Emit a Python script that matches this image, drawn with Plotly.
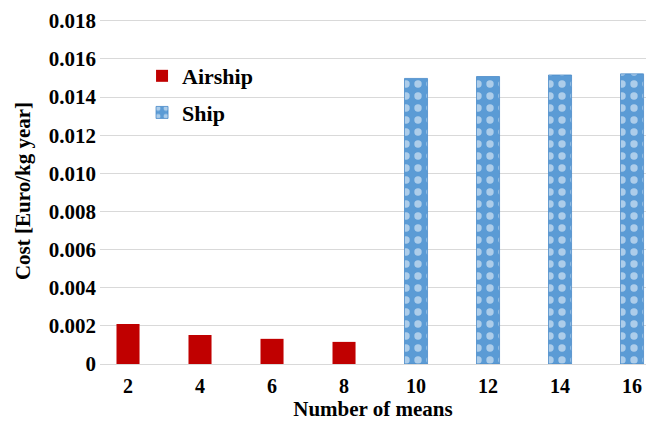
import plotly.graph_objects as go

categories = ["2", "4", "6", "8", "10", "12", "14", "16"]
airship_x = ["2", "4", "6", "8"]
airship_vals = [0.00210, 0.00152, 0.00132, 0.00116]
ship_x = ["10", "12", "14", "16"]
ship_vals = [0.01498, 0.01508, 0.01516, 0.01522]
ytick_vals = [0, 0.002, 0.004, 0.006, 0.008, 0.010, 0.012, 0.014, 0.016, 0.018]
ytick_text = ["0", "0.002", "0.004", "0.006", "0.008", "0.010", "0.012", "0.014", "0.016", "0.018"]

font_family = "Liberation Serif"

fig = go.Figure()
fig.add_trace(go.Bar(
    x=airship_x, y=airship_vals, name="<b>Airship</b>",
    marker=dict(color="#C00000", line=dict(width=0)),
    width=0.32, legendgroup="a",
))
fig.add_trace(go.Bar(
    x=ship_x, y=ship_vals, name="<b>Ship</b>",
    marker=dict(color="#5B9BD5", line=dict(width=0.8, color="#4A8AC8"),
                pattern=dict(shape=".", fgcolor="white", bgcolor="#5B9BD5",
                             size=12, solidity=0.3)),
    width=0.32, legendgroup="b",
))

fig.update_layout(
    width=646, height=421,
    margin=dict(l=100, r=0, t=18, b=57),
    paper_bgcolor="white", plot_bgcolor="white",
    font=dict(family=font_family, color="black", size=20),
    barmode="overlay",
    showlegend=True,
    legend=dict(x=0.077, y=0.893, xanchor="left", yanchor="top",
                font=dict(family=font_family, size=22, color="black"),
                tracegroupgap=5, traceorder="grouped",
                bgcolor="rgba(0,0,0,0)"),
    xaxis=dict(
        type="category", categoryorder="array", categoryarray=categories,
        range=[-0.389, 7.194], showgrid=False, showline=False, ticks="",
        ticklabelstandoff=8,
        tickfont=dict(family=font_family, size=20, color="black", weight="bold"),
        title=dict(text="<b>Number of means</b>", standoff=2,
                   font=dict(family=font_family, size=21, color="black")),
    ),
    yaxis=dict(
        range=[0, 0.01815], tickvals=ytick_vals, ticktext=ytick_text,
        showgrid=True, gridcolor="#D9D9D9", gridwidth=1.2,
        zeroline=True, zerolinecolor="#D9D9D9", zerolinewidth=1.2,
        showline=False, ticks="", ticklabelstandoff=3,
        tickfont=dict(family=font_family, size=21, color="black", weight="bold"),
        title=dict(text="<b>Cost [Euro/kg year]</b>", standoff=12,
                   font=dict(family=font_family, size=21, color="black")),
    ),
)

fig.write_html(
    "out.html",
    config={"displayModeBar": False},
    post_script="document.body.style.margin='0px';"
                "document.documentElement.style.overflow='hidden';",
)
